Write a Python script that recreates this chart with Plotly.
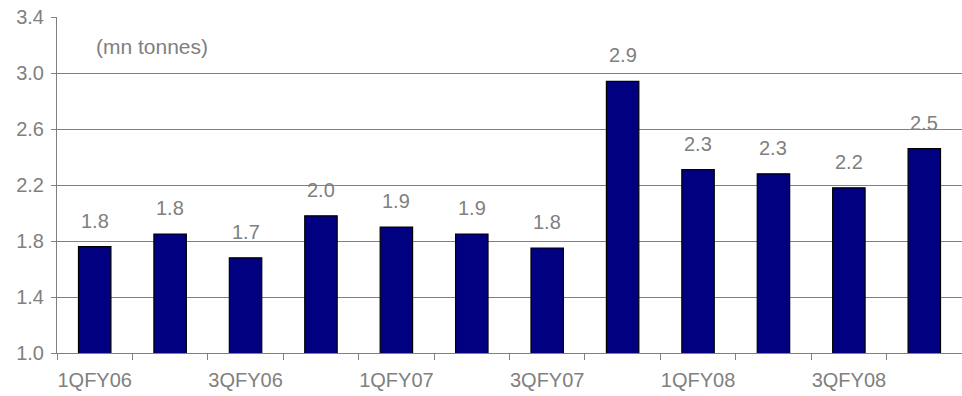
import plotly.graph_objects as go

categories = ["1QFY06", "2QFY06", "3QFY06", "4QFY06",
              "1QFY07", "2QFY07", "3QFY07", "4QFY07",
              "1QFY08", "2QFY08", "3QFY08", "4QFY08"]
values = [1.76, 1.85, 1.68, 1.98, 1.90, 1.85, 1.75, 2.94, 2.31, 2.28, 2.18, 2.46]
labels = ["1.8", "1.8", "1.7", "2.0", "1.9", "1.9", "1.8", "2.9", "2.3", "2.3", "2.2", "2.5"]
tick_text = [c if i % 2 == 0 else "" for i, c in enumerate(categories)]
unit_label = "(mn tonnes)"

FONT = "Liberation Sans, Arial, sans-serif"
GRAY = "#808080"

fig = go.Figure()
fig.add_trace(go.Bar(
    x=categories, y=values,
    marker=dict(color="#000080", line=dict(color="#000000", width=1.2)),
    width=0.43,
    hoverinfo="skip",
))

for c, v, t in zip(categories, values, labels):
    fig.add_annotation(x=c, y=v, text=t, showarrow=False, yanchor="bottom",
                       yshift=13, font=dict(family=FONT, size=20, color=GRAY))

fig.add_annotation(xref="paper", yref="paper", x=0.041, y=0.911, xanchor="left",
                   yanchor="middle", text=unit_label, showarrow=False,
                   font=dict(family=FONT, size=21, color=GRAY))

fig.update_layout(
    width=962, height=396,
    margin=dict(l=57, r=0, t=17, b=43, autoexpand=False),
    plot_bgcolor="white", paper_bgcolor="white",
    showlegend=False,
    font=dict(family=FONT, color=GRAY),
)
fig.update_xaxes(
    type="category", automargin=False, tickangle=0,
    tickmode="array", tickvals=categories, ticktext=tick_text,
    tickson="boundaries", ticks="outside", ticklen=6, tickcolor=GRAY,
    ticklabelstandoff=9,
    showline=True, linecolor=GRAY, linewidth=1,
    showgrid=False,
    tickfont=dict(family=FONT, size=20, color=GRAY),
)
fig.update_yaxes(
    range=[1.0, 3.4], dtick=0.4, tick0=1.0, tickformat=".1f",
    automargin=False,
    showgrid=True, gridcolor=GRAY, gridwidth=1,
    ticks="outside", ticklen=5, tickcolor=GRAY,
    ticklabelstandoff=3,
    showline=True, linecolor=GRAY, linewidth=1,
    zeroline=False,
    tickfont=dict(family=FONT, size=20, color=GRAY),
)

fig.write_html("out.html")
